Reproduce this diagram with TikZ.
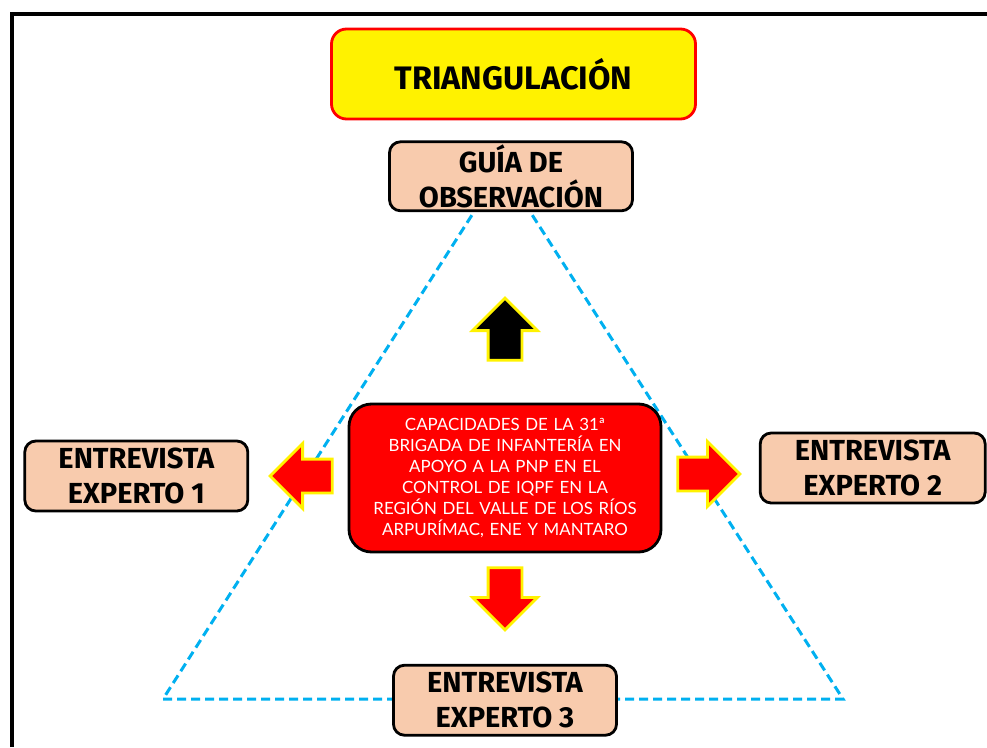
\documentclass[tikz,border=0pt]{standalone}
\usepackage{fontspec}
\setmainfont{Fira Sans}
\newfontfamily\capfont{Lato}
\usetikzlibrary{positioning,shapes.arrows}
\definecolor{peach}{HTML}{F8CBAD}
\definecolor{skyblue}{HTML}{00B0F0}
\newcommand{\boxwidth}{4.46cm}
\newcommand{\boxheight}{1.4cm}
\newcommand{\boxradius}{0.22cm}
\newcommand{\borderwidth}{1.6pt}
\newcommand{\arrowlength}{1.24cm}
\newcommand{\arrowwidth}{1.24cm}
\newcommand{\arrowshaft}{0.31cm}
\newcommand{\framethickness}{0.08cm}

\begin{document}
\begin{tikzpicture}[]

%% styles
\tikzstyle{source}=[draw=black,fill=peach,rounded corners=\boxradius,line width=\borderwidth,minimum width=\boxwidth,minimum height=\boxheight,align=center,inner sep=0pt,font=\fontsize{16.5}{20}\selectfont\bfseries]
\tikzstyle{blockarrow}=[single arrow,draw=yellow,line width=\borderwidth,minimum height=\arrowlength,minimum width=\arrowwidth,single arrow head extend=\arrowshaft,inner xsep=0pt,inner ysep=\arrowshaft,anchor=tail]
\tikzstyle{side}=[draw=skyblue,line width=0.06cm,dash pattern=on 0.18cm off 0.1cm]

%% page size and outer frame (cut at right and bottom)
\useasboundingbox (0,0) rectangle (19.74,-14.94);
\draw[line width=\framethickness] (0.24,-14.94) -- (0.24,-0.28) -- (19.74,-0.28);

%% dashed triangle, boxes drawn over it
\coordinate (apex) at (10.04,-3.36);
\coordinate (baseleft) at (3.26,-13.98);
\coordinate (baseright) at (16.86,-13.98);
\draw[side] (apex) -- (baseleft) -- (baseright) -- cycle;

%% centre box
\node (capacidades) [draw=black,fill=red,text=white,rounded corners=0.45cm,line width=\borderwidth,minimum width=6.24cm,minimum height=2.96cm,text width=5.9cm,align=center,inner sep=0pt,font=\capfont\fontsize{9.6}{11.9}\selectfont] at (10.10,-9.56) {CAPACIDADES DE LA 31ª\\BRIGADA DE INFANTERÍA EN\\APOYO A LA PNP EN EL\\CONTROL DE IQPF EN LA\\REGIÓN DEL VALLE DE LOS RÍOS\\ARPURÍMAC, ENE Y MANTARO};

%% four block arrows
\node (arrowup) [blockarrow,fill=black,rotate=90] at ([yshift=0.82cm]capacidades.north) {};
\node (arrowdown) [blockarrow,fill=red,rotate=-90] at ([yshift=-0.26cm]capacidades.south) {};
\node (arrowleft) [blockarrow,fill=red,rotate=180] at ([xshift=-0.28cm,yshift=0.04cm]capacidades.west) {};
\node (arrowright) [blockarrow,fill=red] at ([xshift=0.28cm,yshift=0.08cm]capacidades.east) {};

%% sources
\node (guia) [source,above=1.68cm of arrowup.tip,xshift=0.12cm,minimum width=4.86cm,minimum height=1.38cm] {GUÍA DE\\OBSERVACIÓN};
\node (experto1) [source,left=0.38cm of arrowleft.tip] {ENTREVISTA\\EXPERTO 1};
\node (experto2) [source,right=0.34cm of arrowright.tip,yshift=0.12cm,minimum width=4.5cm] {ENTREVISTA\\EXPERTO 2};
\node (experto3) [source,below=0.64cm of arrowdown.tip] {ENTREVISTA\\EXPERTO 3};

%% title
\node (title) [source,fill=yellow,draw=red,rounded corners=0.3cm,above=0.4cm of guia,xshift=0.05cm,minimum width=7.28cm,minimum height=1.8cm,font=\fontsize{18.5}{20}\selectfont\bfseries] {TRIANGULACIÓN};

\end{tikzpicture}
\end{document}
